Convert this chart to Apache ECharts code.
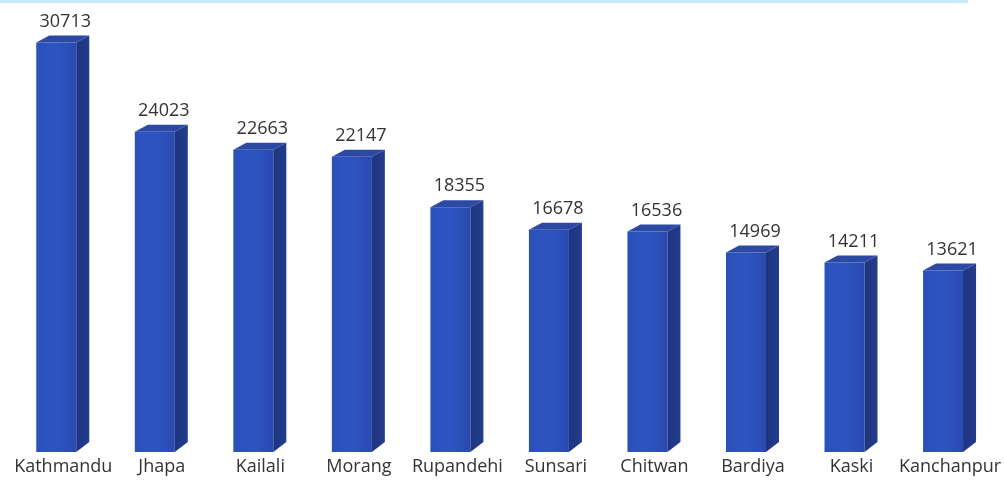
<!DOCTYPE html>
<html>
<head>
<meta charset="utf-8">
<script src="https://cdn.jsdelivr.net/npm/echarts@6/dist/echarts.min.js"></script>
<style>
html,body{margin:0;padding:0;background:#fff;}
#chart{width:1004px;height:481px;}
</style>
</head>
<body>
<div id="chart"></div>
<script>
const categories = ['Kathmandu','Jhapa','Kailali','Morang','Rupandehi','Sunsari','Chitwan','Bardiya','Kaski','Kanchanpur'];
const values = [30713,24023,22663,22147,18355,16678,16536,14969,14211,13621];

const chart = echarts.init(document.getElementById('chart'), null, {renderer:'canvas'});
const FONT = '"Open Sans", sans-serif';

function renderItem(params, api) {
  const idx = api.value(0);
  const val = api.value(1);
  const top = api.coord([idx, val]);
  const base = api.coord([idx, 0]);
  const cx = top[0];
  const frontW = 40, dx = 13, dy = 7;
  const x0 = cx - 27, x1 = x0 + frontW;
  const yt = top[1], yb = base[1];
  return {
    type: 'group',
    children: [
      { type: 'rect', shape: {x: x0, y: yt, width: frontW, height: yb - yt},
        style: {fill: new echarts.graphic.LinearGradient(0,0,1,0,[{offset:0,color:'#2a50bb'},{offset:0.5,color:'#2d55c1'},{offset:1,color:'#2949b0'}])} },
      { type: 'polygon', shape: {points: [[x1, yt],[x1+dx, yt-dy],[x1+dx, yb-dy-3],[x1, yb]]},
        style: {fill: new echarts.graphic.LinearGradient(0,0,1,0,[{offset:0,color:'#1d3580'},{offset:1,color:'#233c8c'}])} },
      { type: 'polygon', shape: {points: [[x0, yt],[x0+dx, yt-dy],[x1+dx, yt-dy],[x1, yt]]},
        style: {fill: '#2c49a4'} },
      { type: 'text', style: {text: String(val), x: cx + 2, y: yt - dy - 5, align: 'center', verticalAlign: 'bottom',
        font: '18px ' + FONT, fill: '#333333'} }
    ]
  };
}

chart.setOption({
  animation: false,
  backgroundColor: '#ffffff',
  graphic: [
    { type: 'rect', left: 0, top: 0, shape: {width: 968, height: 3}, style: {fill: '#c9ebf7'} }
  ],
  grid: {left: 14, right: 2, top: 12, bottom: 29, containLabel: false},
  xAxis: {
    type: 'category', data: categories,
    axisLine: {show: false}, axisTick: {show: false},
    axisLabel: {fontSize: 18, fontFamily: FONT, color: '#333333', margin: 6, interval: 0}
  },
  yAxis: {
    type: 'value', min: 0, max: 33000,
    show: false, splitLine: {show: false}
  },
  series: [{
    type: 'custom',
    renderItem: renderItem,
    data: values.map((v, i) => [i, v]),
    encode: {x: 0, y: 1}
  }]
});
</script>
</body>
</html>
